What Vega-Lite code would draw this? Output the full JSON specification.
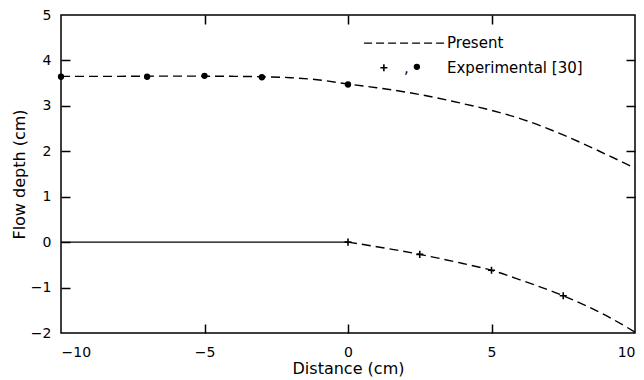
{
  "$schema": "https://vega.github.io/schema/vega-lite/v6.json",
  "width": 574,
  "height": 318,
  "autosize": "none",
  "padding": {"left": 61, "top": 15, "right": 9, "bottom": 47},
  "background": "white",
  "config": {
    "view": {"stroke": "black", "strokeWidth": 1.5},
    "axis": {
      "grid": false,
      "domain": false,
      "tickColor": "black",
      "tickWidth": 1.5,
      "labelFont": "DejaVu Sans",
      "labelFontSize": 14,
      "labelColor": "black",
      "titleFont": "DejaVu Sans",
      "titleFontSize": 16,
      "titleFontWeight": "normal",
      "titleColor": "black"
    }
  },
  "datasets": {
    "upper": [
      {"x": -10, "y": 3.65}, {"x": -8, "y": 3.65}, {"x": -6, "y": 3.655}, {"x": -4, "y": 3.65},
      {"x": -3, "y": 3.64}, {"x": -2, "y": 3.62}, {"x": -1, "y": 3.57}, {"x": 0, "y": 3.48},
      {"x": 1, "y": 3.4}, {"x": 2.5, "y": 3.25}, {"x": 4, "y": 3.05}, {"x": 5, "y": 2.9},
      {"x": 6, "y": 2.72}, {"x": 7.5, "y": 2.36}, {"x": 9, "y": 1.93}, {"x": 10, "y": 1.63}
    ],
    "lowerSolid": [{"x": -10, "y": 0}, {"x": 0, "y": 0}],
    "lowerDashed": [
      {"x": 0, "y": 0}, {"x": 1, "y": -0.1}, {"x": 2.5, "y": -0.27}, {"x": 4, "y": -0.47},
      {"x": 5, "y": -0.62}, {"x": 6, "y": -0.83}, {"x": 7.5, "y": -1.18}, {"x": 9, "y": -1.62},
      {"x": 10, "y": -1.98}
    ],
    "dots": [
      {"x": -10, "y": 3.64}, {"x": -7, "y": 3.64}, {"x": -5, "y": 3.66}, {"x": -3, "y": 3.63}, {"x": 0, "y": 3.47},
      {"x": 2.4, "y": 3.86}
    ],
    "plus": [
      {"x": 0, "y": 0}, {"x": 2.5, "y": -0.27}, {"x": 5, "y": -0.62}, {"x": 7.5, "y": -1.18},
      {"x": 1.25, "y": 3.84}
    ],
    "legendLine": [{"x": 0.56, "y": 4.38}, {"x": 3.4, "y": 4.38}],
    "legendText": [
      {"x": 3.45, "y": 4.38, "label": "Present"},
      {"x": 3.45, "y": 3.84, "label": "Experimental [30]"},
      {"x": 1.95, "y": 3.84, "label": ","}
    ]
  },
  "layer": [
    {
      "data": {"name": "upper"},
      "mark": {"type": "line", "color": "black", "strokeWidth": 1.4, "strokeDash": [9, 5], "interpolate": "monotone"},
      "encoding": {
        "x": {"field": "x", "type": "quantitative", "scale": {"domain": [-10, 10], "nice": false},
              "axis": {"orient": "bottom", "title": "Distance (cm)", "values": [-10, -5, 0, 5, 10], "ticks": false, "labelPadding": 12, "titlePadding": 1}},
        "y": {"field": "y", "type": "quantitative", "scale": {"domain": [-2, 5], "nice": false},
              "axis": {"orient": "left", "title": "Flow depth (cm)", "values": [-2, -1, 0, 1, 2, 3, 4, 5], "ticks": false, "labelPadding": 10, "titlePadding": 3}}
      }
    },
    {
      "data": {"name": "lowerSolid"},
      "mark": {"type": "line", "color": "black", "strokeWidth": 1.2},
      "encoding": {
        "x": {"field": "x", "type": "quantitative", "axis": {"orient": "top", "labels": false, "title": null, "values": [-5, 0, 5], "tickSize": -9}},
        "y": {"field": "y", "type": "quantitative", "axis": {"orient": "right", "labels": false, "title": null, "values": [1, 2, 3, 4], "tickSize": -9}}
      }
    },
    {
      "data": {"name": "lowerDashed"},
      "mark": {"type": "line", "color": "black", "strokeWidth": 1.4, "strokeDash": [9, 5], "interpolate": "monotone"},
      "encoding": {
        "x": {"field": "x", "type": "quantitative", "axis": {"orient": "bottom", "offset": 0, "labels": false, "title": null, "values": [-5, 0, 5], "tickSize": -9}},
        "y": {"field": "y", "type": "quantitative", "axis": {"orient": "left", "offset": 0, "labels": false, "title": null, "values": [-1, 0, 1, 2, 3, 4], "tickSize": -9}}
      }
    },
    {
      "data": {"name": "legendLine"},
      "mark": {"type": "line", "color": "black", "strokeWidth": 1.4, "strokeDash": [8, 4]},
      "encoding": {
        "x": {"field": "x", "type": "quantitative", "axis": null},
        "y": {"field": "y", "type": "quantitative", "axis": null}
      }
    },
    {
      "data": {"name": "dots"},
      "mark": {"type": "point", "shape": "circle", "filled": true, "color": "black", "size": 40, "opacity": 1},
      "encoding": {
        "x": {"field": "x", "type": "quantitative", "axis": null},
        "y": {"field": "y", "type": "quantitative", "axis": null}
      }
    },
    {
      "data": {"name": "plus"},
      "mark": {"type": "point", "shape": "M-1,0L1,0M0,-1L0,1", "filled": false, "color": "black", "strokeWidth": 1.6, "size": 50, "opacity": 1},
      "encoding": {
        "x": {"field": "x", "type": "quantitative", "axis": null},
        "y": {"field": "y", "type": "quantitative", "axis": null}
      }
    },
    {
      "data": {"name": "legendText"},
      "mark": {"type": "text", "align": "left", "baseline": "middle", "font": "DejaVu Sans", "fontSize": 15, "color": "black"},
      "encoding": {
        "x": {"field": "x", "type": "quantitative", "axis": null},
        "y": {"field": "y", "type": "quantitative", "axis": null},
        "text": {"field": "label"}
      }
    }
  ],
  "resolve": {"axis": {"x": "independent", "y": "independent"}}
}
